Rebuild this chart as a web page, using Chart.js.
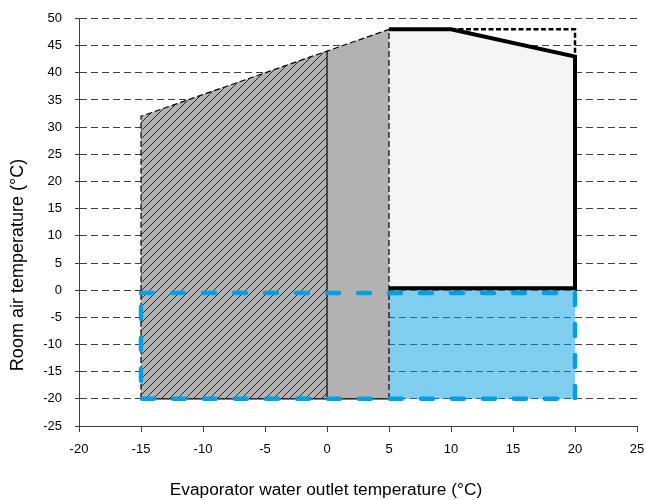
<!DOCTYPE html>
<html>
<head>
<meta charset="utf-8">
<style>
  html, body { margin: 0; padding: 0; background: #ffffff; }
  #wrap { width: 646px; height: 500px; }
</style>
<script src="https://cdn.jsdelivr.net/npm/chart.js@4.4.0/dist/chart.umd.min.js"></script>
</head>
<body>
<div id="wrap"><canvas id="c" width="646" height="500"></canvas></div>
<script>
// ---- Data ----
const xTitle = 'Evaporator water outlet temperature (°C)';
const yTitle = 'Room air temperature (°C)';
const xMin = -20, xMax = 25, xStep = 5;
const yMin = -25, yMax = 50, yStep = 5;

// hatched zone (x -15..0)
const hatchedX = [-15, -15, 0, 0];
const hatchedY = [-20, 32, 44, -20];
// grey zone (x 0..5)
const greyX = [0, 0, 5, 5];
const greyY = [-20, 44, 48, -20];
// light zone with thick outline
const lightX = [5, 5, 10, 20, 20];
const lightY = [0, 48, 48, 43, 0];
// blue filled zone
const blueFillX = [5, 5, 20, 20];
const blueFillY = [-20, 0, 0, -20];
// thin dashed outline of grey zones
const dashOutlineX = [-15, -15, 0, 5, 5];
const dashOutlineY = [-20, 32, 44, 48, -20];
// thin solid edges
const solidEdgeX = [5, -15, null, 0, 0];
const solidEdgeY = [-20, -20, null, -20, 44];
// thick black envelope
const thickX = [5, 5, 10, 20, 20, 5];
const thickY = [48, 48, 48, 43, 0.35, 0.35];
// dotted black extension
const dottedX = [10, 20, 20];
const dottedY = [48, 48, 43];
// blue dashed rectangle
const blueDashX = [-15, 20, 20, -15, -15];
const blueDashY = [-0.5, -0.5, -20, -20, -0.5];

function pts(xs, ys) {
  return xs.map((x, i) => (x === null ? { x: NaN, y: NaN } : { x: x, y: ys[i] }));
}

// hatch pattern: grey with thin black diagonal lines
function makeHatch() {
  const s = 8;
  const pc = document.createElement('canvas');
  pc.width = s; pc.height = s;
  const g = pc.getContext('2d');
  g.fillStyle = '#b2b2b2';
  g.fillRect(0, 0, s, s);
  g.strokeStyle = '#1a1a1a';
  g.lineWidth = 0.9;
  g.beginPath();
  g.moveTo(0, s); g.lineTo(s, 0);
  g.moveTo(-1, 1); g.lineTo(1, -1);
  g.moveTo(s - 1, s + 1); g.lineTo(s + 1, s - 1);
  g.stroke();
  return g.createPattern(pc, 'repeat');
}

const ctx = document.getElementById('c').getContext('2d');
const hatch = makeHatch();

const FONT = "'Liberation Sans', Arial, sans-serif";

// axis titles drawn as canvas text (positioned like the reference)
const axisTitles = {
  id: 'axisTitles',
  afterDraw(chart) {
    const c = chart.ctx;
    c.save();
    c.fillStyle = '#000000';
    c.textAlign = 'center';
    c.textBaseline = 'middle';
    c.font = "17.3px " + FONT;
    c.fillText(xTitle, 326, 490);
    c.translate(18.5, 265);
    c.rotate(-Math.PI / 2);
    c.font = "18px " + FONT;
    c.fillText(yTitle, 0, 0);
    c.restore();
  }
};

const base = { showLine: true, pointRadius: 0, pointHoverRadius: 0, tension: 0, spanGaps: false };

new Chart(ctx, {
  type: 'scatter',
  data: {
    datasets: [
      Object.assign({}, base, { label: 'hatched', data: pts(hatchedX, hatchedY), fill: 'shape', backgroundColor: hatch, borderWidth: 0, order: 10 }),
      Object.assign({}, base, { label: 'grey', data: pts(greyX, greyY), fill: 'shape', backgroundColor: '#b2b2b2', borderWidth: 0, order: 9 }),
      Object.assign({}, base, { label: 'light', data: pts(lightX, lightY), fill: 'shape', backgroundColor: '#f5f5f5', borderWidth: 0, order: 8 }),
      Object.assign({}, base, { label: 'blueFill', data: pts(blueFillX, blueFillY), fill: 'shape', backgroundColor: 'rgba(0,158,224,0.5)', borderWidth: 0, order: 7 }),
      Object.assign({}, base, { label: 'dashOutline', data: pts(dashOutlineX, dashOutlineY), fill: false, borderColor: '#000000', borderWidth: 1.2, borderDash: [6, 3], order: 6 }),
      Object.assign({}, base, { label: 'solidEdge', data: pts(solidEdgeX, solidEdgeY), fill: false, borderColor: '#000000', borderWidth: 1.2, order: 5 }),
      Object.assign({}, base, { label: 'thick', data: pts(thickX, thickY), fill: false, borderColor: '#000000', borderWidth: 4, borderJoinStyle: 'miter', order: 4 }),
      Object.assign({}, base, { label: 'dotted', data: pts(dottedX, dottedY), fill: false, borderColor: '#000000', borderWidth: 2.5, borderDash: [5, 2.5], order: 3 }),
      Object.assign({}, base, { label: 'blueDash', data: pts(blueDashX, blueDashY), fill: false, borderColor: '#00a0e3', borderWidth: 4.5, borderDash: [12, 19], borderCapStyle: 'round', order: 2 })
    ]
  },
  plugins: [axisTitles],
  options: {
    responsive: false,
    animation: false,
    events: [],
    layout: { autoPadding: false, padding: { top: 18.5, right: 9, bottom: 0, left: 0 } },
    plugins: { legend: { display: false }, tooltip: { enabled: false } },
    scales: {
      x: {
        type: 'linear',
        min: xMin, max: xMax,
        afterFit: (s) => { s.height = 74; s.paddingLeft = 0; s.paddingRight = 0; },
        ticks: { stepSize: xStep, color: '#000000', font: { family: FONT, size: 13 }, padding: 10, maxRotation: 0 },
        grid: { drawOnChartArea: false, drawTicks: true, tickLength: 6, color: '#404040', lineWidth: 1 },
        border: { display: true, color: '#404040', width: 1 }
      },
      y: {
        type: 'linear',
        min: yMin, max: yMax,
        afterFit: (s) => { s.width = 79; s.paddingTop = 0; s.paddingBottom = 0; },
        ticks: { stepSize: yStep, color: '#000000', font: { family: FONT, size: 13 }, padding: 13 },
        grid: { drawOnChartArea: true, drawTicks: true, tickLength: 4, color: '#404040', lineWidth: 1, tickBorderDash: [] },
        border: { display: true, color: '#404040', width: 1, dash: [7, 4] }
      }
    }
  }
});
</script>
</body>
</html>
